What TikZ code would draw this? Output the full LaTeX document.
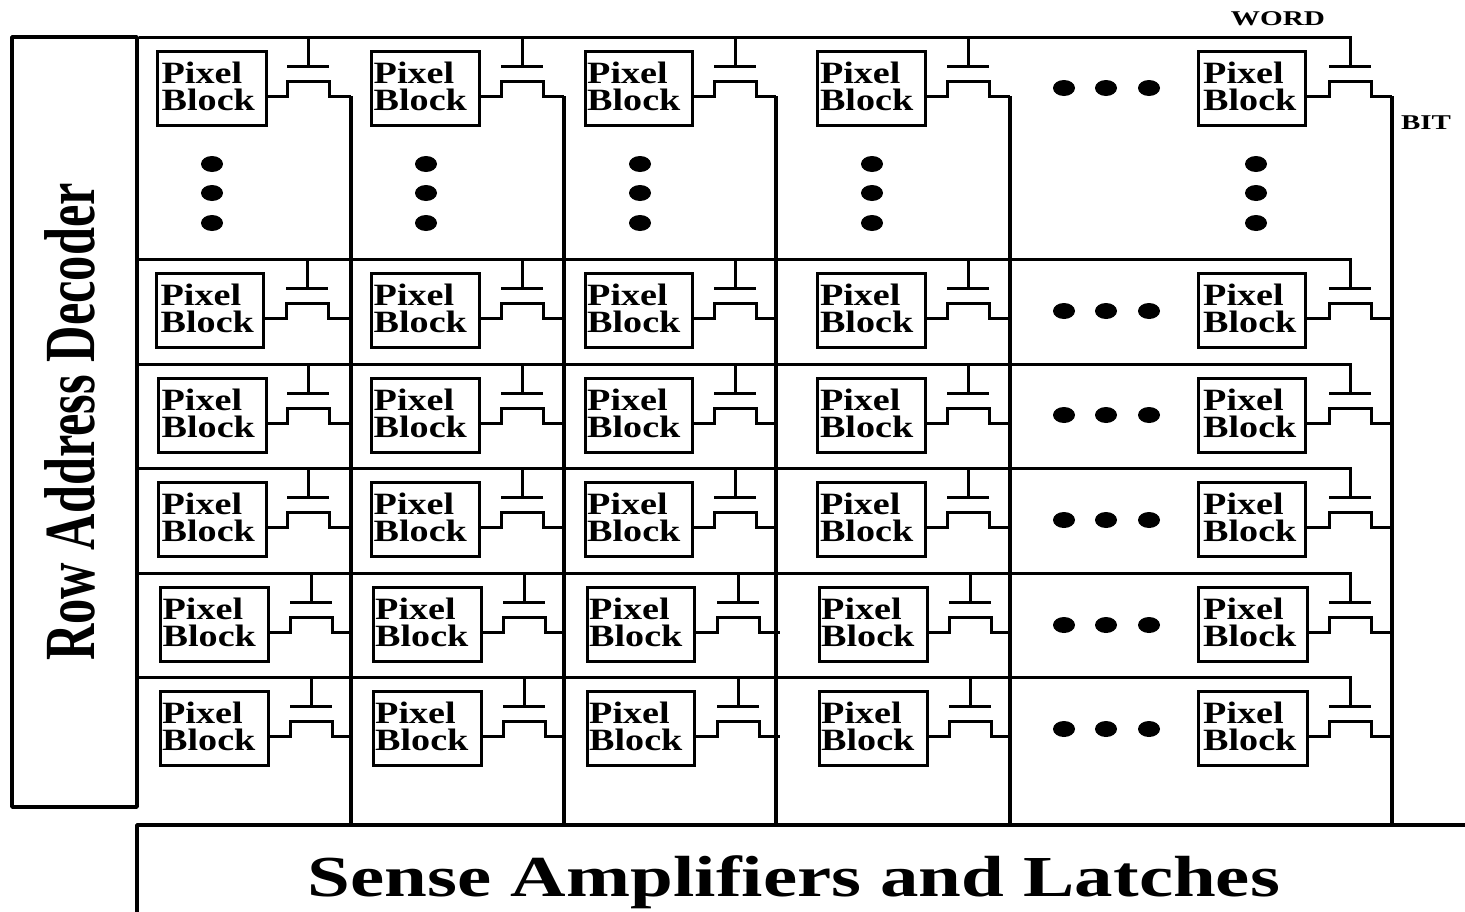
\documentclass[tikz,border=0pt]{standalone}
\usepackage{fontspec}
\usepackage{graphicx}
\setmainfont{Liberation Serif}
\newcommand{\hscaled}[2]{\scalebox{#1}[1]{#2}}
\newcommand{\pixlab}{\raisebox{-7.7pt}[14pt][14pt]{\hscaled{1.23}{\begin{tabular}{@{}l@{}}Pixel\\[-2.5pt]Block\end{tabular}}}}
\tikzset{
  wire/.style={line width=3pt,line join=miter},
  bitline/.style={line width=3.6pt},
  frame/.style={line width=3.6pt,line join=round},
  pixbox/.style={draw,line width=3.4pt,anchor=north west,inner ysep=0pt,
    minimum height=74pt,align=left,font=\fontsize{31}{27}\selectfont\bfseries},
  tag/.style={inner sep=0pt,font=\fontsize{21}{22}\selectfont\bfseries},
  dot/.style={fill=black}
}
\begin{document}
\begin{tikzpicture}[x=1pt,y=-1pt]
\clip (0,0) rectangle (1465,911);
\fill[white] (0,0) rectangle (1465,911);
% decoder
\node[draw,frame,minimum width=125pt,minimum height=770pt,inner sep=0pt,
  font=\fontsize{72}{72}\selectfont\bfseries] (dec) at (74.5,422)
  {\hspace*{-9pt}\rotatebox{90}{\hscaled{0.70}{Row Address Decoder}}};
% sense amplifiers
\coordinate (senseTL) at (137,825);
\coordinate (senseTR) at (1466,825);
\coordinate (senseBL) at (137,912);
\draw[frame] (senseBL) -- (senseTL) -- (senseTR);
\node[inner sep=0pt,font=\fontsize{58}{60}\selectfont\bfseries] (sense) at (794,882.5)
  {\hscaled{1.326}{Sense Amplifiers and Latches}};
% bit lines
\foreach \c/\X in {1/351,2/564,3/776,4/1010,5/1392}{
  \coordinate (bit\c) at (\X,96);
  \draw[bitline] (bit\c) -- (bit\c |- senseTL);
}
% rows
\foreach \r/\T/\cells in {
  1/52/{158/109/308/0/2.5,372/108/522/0/0.5,586/107/735/0/0,818/108/968/0/0.8,1199/107/1350/0/3},
  2/274/{157/107/307/0/2.5,372/108/522/0/0.5,586/107/735/0/0,818/108/968/0/0.8,1199/107/1350/0/3},
  3/379/{159/108/308/0/1.5,372/108/522/0/0.5,586/107/735/0/0,818/108/968/0/0.8,1199/107/1350/0/3},
  4/483/{159/108/308/0/1.5,372/108/522/0/0.5,586/107/735/0/0,818/108/968/0/0.8,1199/107/1350/0/3},
  5/588/{161/108/311/0/0.5,374/108/524/0/0,588/107/738/4/0,820/108/970/0/0,1199/109/1350/0/3},
  6/692/{161/108/311/0/0,374/108/524/0/0,588/107/738/4/0,820/108/970/0/0,1199/109/1350/0/3}}{
  \foreach \L/\W/\S/\E/\I [count=\c] in \cells {
    \node[pixbox,inner xsep=\I pt,minimum width=\W pt,text width=\W pt-2*\I pt-3pt]
      (box-\r-\c) at (\L-2,\T-2) {\pixlab};
    \coordinate (gate-\r-\c) at (\S,\T+14);
    \coordinate (word-\r-\c) at (\S,\T-15);
    \coordinate (level-\r-\c) at (\S,\T+44);
    \draw[wire] (box-\r-\c.east |- level-\r-\c) -- (\S-21,\T+44) -- (\S-21,\T+29.5) -- (\S+21,\T+29.5)
       -- (\S+21,\T+44) -- (bit\c |- level-\r-\c) -- ++(\E,0);
    \draw[wire] (\S-21,\T+14) -- (\S+21,\T+14);
    \draw[wire] (word-\r-\c) -- (gate-\r-\c);
  }
  \draw[wire] (dec.east |- word-\r-5) -- (word-\r-5) -- (gate-\r-5);
}
% horizontal dots
\foreach \y in {88,311,415,520,625,729}{
  \foreach \x in {1064,1106,1149}{
    \fill[dot] (\x,\y) ellipse [x radius=11,y radius=8];
  }
}
% vertical dots
\foreach \x in {212,426,640,872,1256}{
  \foreach \y in {164,193,223}{
    \fill[dot] (\x,\y) ellipse [x radius=11,y radius=8];
  }
}
\node[tag] (wordlabel) at (1278,19) {\hscaled{1.39}{WORD}};
\node[tag] (bitlabel) at (1426,122.5) {\hscaled{1.38}{BIT}};
\end{tikzpicture}
\end{document}
